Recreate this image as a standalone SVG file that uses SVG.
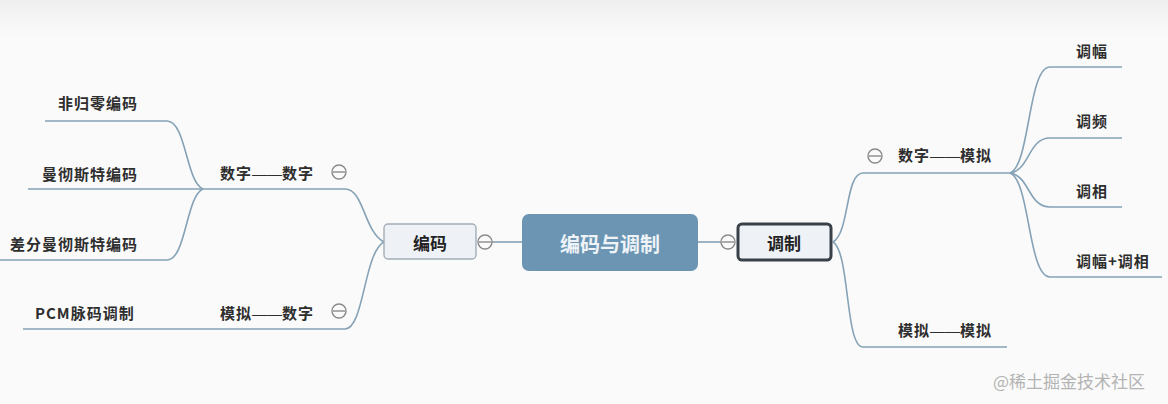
<svg xmlns="http://www.w3.org/2000/svg" width="1168" height="404" viewBox="0 0 1168 404">
<defs>
<linearGradient id="bg" x1="0" y1="0" x2="0" y2="1">
<stop offset="0" stop-color="#efefef"/>
<stop offset="1" stop-color="#fafafa"/>
</linearGradient>
<style>
.t{font-family:"Noto Sans CJK SC","Noto Sans",sans-serif;font-size:15px;font-weight:bold;fill:#2e2e2e;letter-spacing:1px}
.d{font-family:"Liberation Sans","Noto Sans CJK SC",sans-serif;letter-spacing:0;font-weight:normal}
.c{fill:none;stroke:#86a2b6;stroke-width:1.6}
.btn circle{fill:#fafafa;stroke:#8a8a8a;stroke-width:1.4}
.btn line{stroke:#8a8a8a;stroke-width:1.4}
</style>
</defs>
<rect width="1168" height="404" fill="#fafafa"/>
<rect width="1168" height="36" fill="url(#bg)"/>

<g id="connectors">
<path class="c" d="M492,242 H522"/>
<path class="c" d="M698,242 H721"/>
<path class="c" d="M28,189 H345 C364,189 364,232 384,242"/>
<path class="c" d="M23,329 H345 C364,329 364,252 384,242"/>
<path class="c" d="M45,121 H167 C186,121 186,182 203,189"/>
<path class="c" d="M0,260 H167 C186,260 186,196 203,189"/>
<path class="c" d="M833,242 C850,232 845,173 863,173 H1010"/>
<path class="c" d="M833,242 C850,252 845,347 863,347 H1007"/>
<path class="c" d="M1010,173 C1030,166 1028,67 1050,67 H1122"/>
<path class="c" d="M1010,173 C1030,170 1028,138 1050,138 H1122"/>
<path class="c" d="M1010,173 C1030,176 1028,207 1050,207 H1122"/>
<path class="c" d="M1010,173 C1030,180 1028,277 1050,277 H1162"/>
</g>

<g id="root">
<rect x="522" y="214" width="176" height="57" rx="7" fill="#6b95b2"/>
<text x="610" y="251.5" text-anchor="middle" style="font-family:'Noto Sans CJK SC','Noto Sans',sans-serif;font-size:20px;font-weight:bold;fill:#eef3f8">编码与调制</text>
</g>

<g id="node-bianma">
<rect x="384" y="224" width="92" height="35" rx="4" fill="#eef2f7" stroke="#a3adb8" stroke-width="1.4"/>
<text x="430" y="249.5" text-anchor="middle" style="font-family:'Noto Sans CJK SC','Noto Sans',sans-serif;font-size:17px;font-weight:bold;fill:#222">编码</text>
</g>
<g id="node-tiaozhi">
<rect x="738" y="224" width="93" height="36" rx="4" fill="#eef2f7" stroke="#394148" stroke-width="3"/>
<text x="784" y="249.5" text-anchor="middle" style="font-family:'Noto Sans CJK SC','Noto Sans',sans-serif;font-size:17px;font-weight:bold;fill:#222">调制</text>
</g>

<g id="node-szsz"><text class="t" x="220" y="179">数字<tspan class="d">——</tspan>数字</text></g>
<g id="node-mnsz"><text class="t" x="220" y="318.5">模拟<tspan class="d">——</tspan>数字</text></g>
<g id="node-fgl"><text class="t" x="58" y="109">非归零编码</text></g>
<g id="node-mcst"><text class="t" x="42" y="179.5">曼彻斯特编码</text></g>
<g id="node-cfmcst"><text class="t" x="10" y="249.5">差分曼彻斯特编码</text></g>
<g id="node-pcm"><text class="t" x="35" y="318.5">PCM脉码调制</text></g>

<g id="node-szmn"><text class="t" x="898" y="161">数字<tspan class="d">——</tspan>模拟</text></g>
<g id="node-mnmn"><text class="t" x="898" y="336">模拟<tspan class="d">——</tspan>模拟</text></g>
<g id="node-tf"><text class="t" x="1076" y="57">调幅</text></g>
<g id="node-tp"><text class="t" x="1076" y="127">调频</text></g>
<g id="node-tx"><text class="t" x="1076" y="196.5">调相</text></g>
<g id="node-tftx"><text class="t" x="1076" y="266.5">调幅+调相</text></g>

<g id="buttons" class="btn">
<g><circle cx="339" cy="172" r="7"/><line x1="333" y1="172" x2="345" y2="172"/></g>
<g><circle cx="339" cy="311" r="7"/><line x1="333" y1="311" x2="345" y2="311"/></g>
<g><circle cx="485" cy="242" r="7"/><line x1="479" y1="242" x2="491" y2="242"/></g>
<g><circle cx="728" cy="242" r="7"/><line x1="722" y1="242" x2="734" y2="242"/></g>
<g><circle cx="875" cy="156" r="7"/><line x1="869" y1="156" x2="881" y2="156"/></g>
</g>

<text x="993" y="387.5" style="font-family:'Noto Sans CJK SC','Noto Sans',sans-serif;font-size:17px;fill:#b3b3b3">@稀土掘金技术社区</text>
</svg>
